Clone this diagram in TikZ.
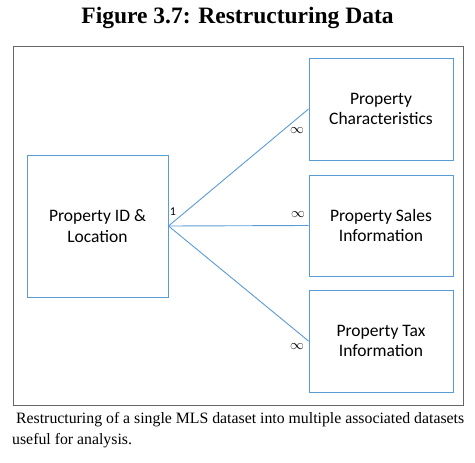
\documentclass[tikz,border=0pt]{standalone}
\usepackage{fontspec}
\setmainfont{Liberation Serif}
\newfontfamily\boxfont{Carlito}
\begin{document}
\begin{tikzpicture}[x=1pt,y=-1pt,
  ent/.style={draw=entblue, line width=1pt, inner sep=0pt, font=\boxfont\fontsize{17.5}{20.5}\selectfont, align=center},
  link/.style={draw=entblue, line width=0.9pt},
  card/.style={font=\boxfont\fontsize{12}{14}\selectfont, inner sep=0pt}]
\definecolor{entblue}{RGB}{91,155,213}
\useasboundingbox (0,0) rectangle (475,463);
\node[font=\bfseries\fontsize{23.5}{28}\selectfont] (title) at (237.5,18) {Figure 3.7: Restructuring Data};
\draw[draw=gray!80!black, line width=0.8pt] (13,46) rectangle (463,405);
\node[ent, minimum width=141pt, minimum height=142pt] (pid) at (97.5,226) {Property ID \&\\Location};
\node[ent, minimum width=144pt, minimum height=102pt] (pc) at (381,109) {Property\\Characteristics};
\node[ent, minimum width=144pt, minimum height=101pt] (ps) at (381,225.5) {Property Sales\\Information};
\node[ent, minimum width=144pt, minimum height=102pt] (pt) at (381,341) {Property Tax\\Information};
\coordinate (hub) at (pid.east);
\draw[link] (hub) -- (pc.west);
\draw[link] (hub) -- (ps.west);
\draw[link] (hub) -- (pt.west);
\node[card] (c1) at (173,212) {1};
\node[card, scale=1.15] (i1) at (297,131) {$\infty$};
\node[card, scale=1.15] (i2) at (298,215) {$\infty$};
\node[card, scale=1.15] (i3) at (297,347) {$\infty$};
\node[anchor=north west, align=left, inner sep=0pt, font=\fontsize{15.8}{21}\selectfont] (cap) at (12,412) {\ Restructuring of a single MLS dataset into multiple associated datasets\\useful for analysis.};
\end{tikzpicture}
\end{document}
